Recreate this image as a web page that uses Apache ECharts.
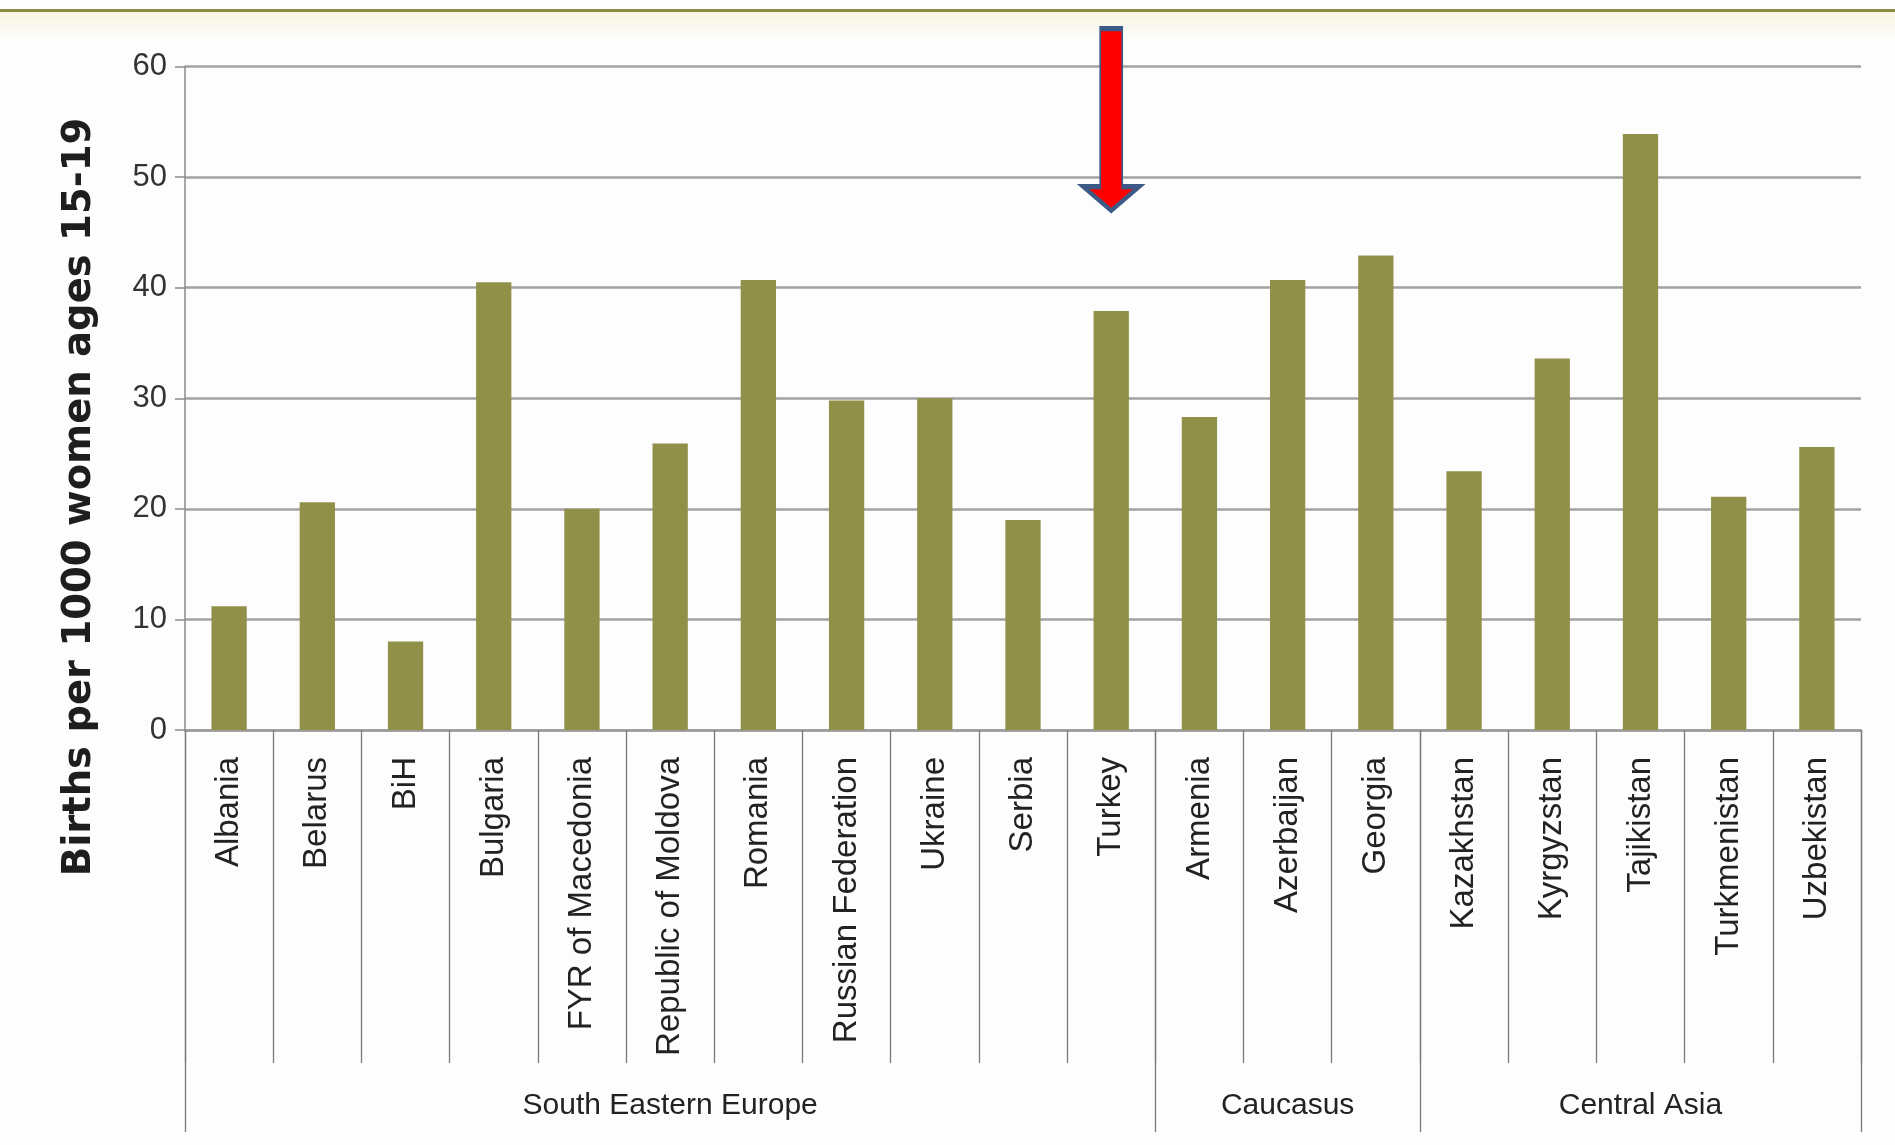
<!DOCTYPE html>
<html>
<head>
<meta charset="utf-8">
<script src="https://cdn.jsdelivr.net/npm/echarts@6/dist/echarts.min.js"></script>
<style>
html,body{margin:0;padding:0;background:#fdfdfd;}
#chart{width:1895px;height:1145px;}
</style>
</head>
<body>
<div id="chart"></div>
<script>
const countries = ['Albania','Belarus','BiH','Bulgaria','FYR of Macedonia','Republic of Moldova','Romania','Russian Federation','Ukraine','Serbia','Turkey','Armenia','Azerbaijan','Georgia','Kazakhstan','Kyrgyzstan','Tajikistan','Turkmenistan','Uzbekistan'];
const births = [11.2, 20.6, 8.0, 40.5, 20.0, 25.9, 40.7, 29.8, 30.0, 19.0, 37.9, 28.3, 40.7, 42.9, 23.4, 33.6, 53.9, 21.1, 25.6];
const groupNames = ['South Eastern Europe','Caucasus','Central Asia'];
const groupSizes = [11, 3, 5];
const yTicks = [0, 10, 20, 30, 40, 50, 60];
const yTitle = 'Births per 1000 women ages 15-19';
const arrowTarget = 'Turkey';
const arrowValue = 55.2;

const groupStarts = [];
const groupCenters = {};
let acc = 0;
groupSizes.forEach((n, i) => {
  groupStarts.push(acc);
  groupCenters[acc + (n - 1) / 2] = groupNames[i];
  acc += n;
});

const narrow = '"Liberation Sans Narrow", "Liberation Sans", sans-serif';
const chart = echarts.init(document.getElementById('chart'));
chart.setOption({
  backgroundColor: '#fdfdfd',
  animation: false,
  grid: {left: 185, right: 34, top: 66.5, bottom: 415, containLabel: false},
  xAxis: [{
    type: 'category',
    data: countries,
    position: 'bottom',
    axisLine: {show: true, lineStyle: {color: '#9c9c9c', width: 2.5}},
    axisTick: {show: true, interval: 0, length: 333, lineStyle: {color: '#7a7a7a', width: 1.3}},
    axisLabel: {interval: 0, rotate: 90, margin: 27, fontSize: 33, fontFamily: narrow, color: '#222'}
  }, {
    type: 'category',
    data: countries,
    position: 'bottom',
    axisLine: {show: false},
    axisTick: {show: true, length: 402, interval: (idx) => groupStarts.indexOf(idx) >= 0,
      lineStyle: {color: '#7a7a7a', width: 1.3}},
    axisLabel: {
      interval: (idx) => groupCenters[idx] !== undefined,
      formatter: (v, idx) => groupCenters[idx] || '',
      margin: 361, fontSize: 30, fontFamily: narrow, color: '#222'
    }
  }],
  yAxis: {
    type: 'value', min: yTicks[0], max: yTicks[yTicks.length - 1], interval: 10,
    axisLine: {show: true, lineStyle: {color: '#8a8a8a', width: 1.5}},
    axisTick: {show: true, length: 10, lineStyle: {color: '#8a8a8a', width: 1.5}},
    axisLabel: {margin: 18, fontSize: 31, fontFamily: narrow, color: '#333'},
    splitLine: {show: true, lineStyle: {color: '#a2a2a2', width: 2.5}}
  },
  series: [{
    type: 'bar',
    data: births,
    barWidth: '40%',
    itemStyle: {color: '#909048'},
    markPoint: {
      silent: true,
      data: [{
        coord: [arrowTarget, arrowValue],
        symbol: 'path://M17,0L39,0L39,158L56,158L28,182L0,158L17,158Z',
        symbolSize: [56, 182],
        itemStyle: {color: '#ff0000', borderColor: '#3d5a87', borderWidth: 3},
        label: {show: false}
      }]
    }
  }],
  graphic: [
    {type: 'rect', left: 0, top: 12, shape: {width: 1895, height: 30},
      style: {fill: new echarts.graphic.LinearGradient(0, 0, 0, 1, [{offset: 0, color: '#f7f5e2'}, {offset: 1, color: '#fdfdfd'}])}, z: -1},
    {type: 'rect', left: 0, top: 9, shape: {width: 1895, height: 3}, style: {fill: '#8a8a3e'}},
    {type: 'text', x: 80, y: 497, rotation: Math.PI / 2,
      style: {text: yTitle, font: 'bold 38.5px "DejaVu Sans", sans-serif', fill: '#1e1e1e', textAlign: 'center', textVerticalAlign: 'middle'}}
  ]
});
</script>
</body>
</html>
